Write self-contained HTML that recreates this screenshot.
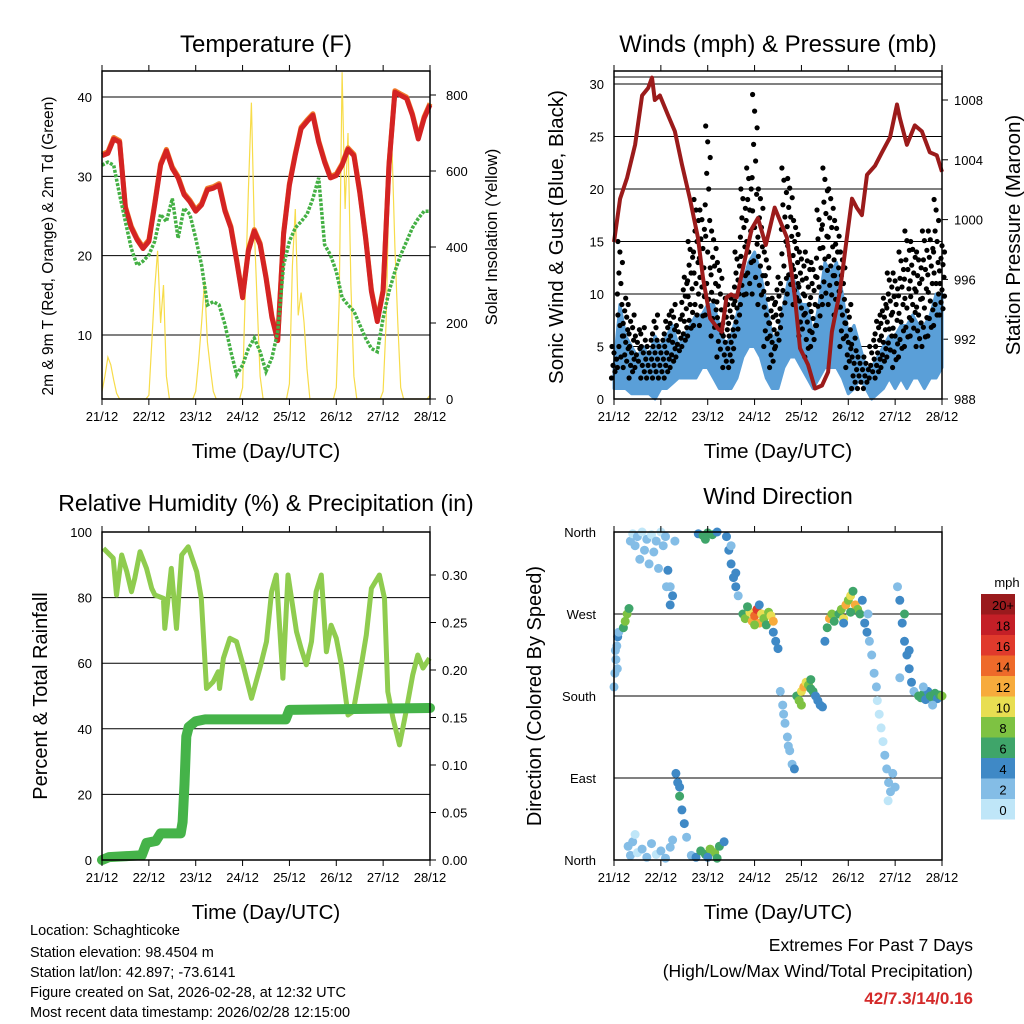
<!DOCTYPE html>
<html><head><meta charset="utf-8">
<style>
html,body{margin:0;padding:0;background:#fff;}
svg{display:block;font-family:"Liberation Sans",sans-serif;}
</style></head>
<body>
<svg id="c" width="1024" height="1024" viewBox="0 0 1024 1024" xmlns="http://www.w3.org/2000/svg"></svg>
<script>
// ---------- data ----------
const dayLabels = ["21/12","22/12","23/12","24/12","25/12","26/12","27/12","28/12"];
const tempTicks = [10,20,30,40];
const solarTicks = [0,200,400,600,800];
const tempAir = [32.6,32.9,34.7,34.3,26,23.5,22,20.9,21.8,26.4,31.4,33.2,31,29.8,27.7,26.8,25.6,26.4,28.3,28.5,28.9,25.6,23.5,19.3,14.7,20.6,23.1,21.4,17.2,12.2,9.3,22.7,28.9,32.7,36,36.9,37.7,34.3,31.8,29.8,30.1,31.4,33.4,32.6,28,22.2,15.5,11.7,15.5,31.4,40.6,40.2,39.8,37.7,34.7,37.3,39];
const tempDew = [31.4,31.8,31.4,27.7,24.3,20.9,18.8,19.3,20.1,21.8,25.2,24.3,27.2,22.2,26,25.2,22.2,18.8,13.8,14.2,13.8,11.3,7.9,5,6.2,8.3,9.6,7.9,5.4,7.1,10.4,18.8,21.8,23.5,24.3,25.2,27.2,29.8,21.4,20.1,18,14.7,13.8,13,11.3,9.6,8.3,7.9,12.1,15.5,18,20.1,21.8,23.5,24.7,25.6,25.6];
const solar = [20,60,110,90,50,15,0,0,0,0,0,0,0,0,0,0,
 10,150,290,390,200,300,60,0,0,0,0,0,0,0,0,0,
 20,100,200,310,150,80,20,0,0,0,0,0,0,0,0,0,
 30,300,550,780,450,250,60,0,0,0,0,0,0,0,0,0,
 40,350,500,220,280,200,80,0,0,0,0,0,0,0,0,0,
 30,260,860,500,700,300,60,0,0,0,0,0,0,0,0,0,
 20,200,550,670,400,200,30,0,0,0,0,0,0,0,0,0,10];
const windTicks = [0,5,10,15,20,25,30];
const presTicks = [988,992,996,1000,1004,1008];
const windLo = [1,1,1,0.5,0.5,0.5,0.5,0,1,1,1.5,2,2,2,2,3,3,2,1,1,1,2,4,5,5,4,2,1,1,3,4,4,3,2,1,2,3,3,3,2,0.5,1,2,1,0,0.5,1,2,1,2,1,2,2,1,2,2,3];
const windHi = [3,9,6,5,4,5,4,6,5,6,7,5,6,7,8,8,9,9,7,5,6,8,11,13,14,12,9,6,6,9,12,11,9,9,6,9,13,12,13,10,6,7,5,3,3,4,5,6,6,7,7,8,7,7,8,10,10];
const gustLo = [2,3,3,2,3,2,2,2,2,2,3,4,5,6,7,7,8,6,4,3,3,6,9,10,10,9,5,3,5,8,10,9,6,4,5,7,9,9,8,5,3,1,1,1,2,2,3,4,3,4,5,6,5,5,6,7,8];
const gustHi = [5,15,10,8,7,7,6,8,6,8,9,8,12,15,19,18,26,16,13,10,10,14,20,22,29,20,14,10,12,22,21,17,14,14,13,18,22,20,17,14,9,6,4,4,6,8,10,12,12,14,16,15,14,16,16,19,15];
const presTimes = [0,0.13,0.28,0.45,0.6,0.73,0.81,0.87,0.98,1.15,1.3,1.45,1.62,1.79,1.9,2.05,2.22,2.3,2.4,2.5,2.62,2.77,2.94,3.07,3.24,3.43,3.56,3.69,3.86,3.97,4.14,4.29,4.44,4.57,4.65,4.82,4.95,5.08,5.18,5.29,5.4,5.57,5.72,5.89,6.04,6.1,6.25,6.42,6.57,6.74,6.89,7.0];
const presVals = [998.5,1001.4,1002.8,1005,1008.3,1008.8,1009.5,1008,1008.3,1007,1005.9,1003.7,1001.4,998.8,996.1,993.4,992.7,992.5,994.8,995,994.8,997,999.4,1000.1,998.3,1000.8,999.8,998.8,994.8,991.4,990.3,988.7,988.9,989.8,992.5,995.2,998.3,1001.4,1000.8,1000.3,1003,1003.6,1004.5,1005.5,1007.7,1006.8,1005,1006.3,1005.9,1004.5,1004.3,1003.2];
const rhTicks = [0,20,40,60,80,100];
const rainTicks = ["0.00","0.05","0.10","0.15","0.20","0.25","0.30"];
const rhTimes = [0.03,0.24,0.31,0.42,0.53,0.63,0.70,0.81,0.95,1.06,1.13,1.31,1.34,1.48,1.59,1.70,1.84,2.02,2.12,2.23,2.37,2.48,2.51,2.59,2.73,2.87,3.01,3.19,3.37,3.51,3.62,3.72,3.86,3.97,4.15,4.25,4.36,4.47,4.57,4.68,4.79,4.89,5.0,5.11,5.25,5.36,5.5,5.64,5.75,5.92,6.03,6.10,6.21,6.35,6.49,6.63,6.74,6.85,6.99];
const rhVals = [95,92,80.8,93,87.9,81.8,85.9,94,88.9,82.8,80.8,79.8,70.6,88.9,70.6,93,95.5,87.9,79.8,52.3,54.3,57.4,52.3,61.5,67.6,66.6,59.5,49.3,58.5,66.6,81.8,86.9,55.4,86.9,69.6,64.5,59.5,66.6,81.8,86.9,63.5,71.6,67.6,59.5,44.2,45.3,56.4,68.6,82.8,86.9,79.8,51.3,43.2,35.1,45.3,56.4,62.5,58.5,61.5];
const rainTimes = [0,0.15,0.85,0.95,1.15,1.25,1.68,1.72,1.76,1.8,1.85,2.0,2.2,3.92,4.0,7.0];
const rainVals = [0,0.003,0.005,0.018,0.02,0.028,0.028,0.04,0.08,0.13,0.14,0.146,0.148,0.148,0.158,0.16];
const dirLabels = ["North","East","South","West","North"];
const dirT = [0,0.02,0.04,0.06,0.08,0.1,0.03,0.07, 0.2,0.24,0.28,0.32,
 0.35,0.4,0.45,0.5,0.55,0.6,0.65,0.7,0.75,0.8,0.85,0.9,0.95,1.0,1.05,1.1,1.15,1.2,1.25,1.3,1.12,1.2,
 1.8,1.9,2.0,2.1,2.2,1.95,
 2.4,2.45,2.5,2.55,2.6,2.65,2.5,2.6,
 2.75,2.8,2.9,2.95,3.0,3.05,3.1,3.15,3.2,3.25,3.3,3.35,3.4,3.0,2.85,3.1,
 3.45,3.5,3.4,
 3.55,3.6,3.65,3.7,3.75,3.8,3.85,3.62,3.72,
 3.9,3.95,4.0,4.05,4.1,4.15,4.2,4.25,4.3,4.35,4.4,4.45,4.0,4.2,
 4.5,4.55,4.6,4.65,4.7,
 4.8,4.85,4.9,4.95,5.0,5.05,5.1,5.15,5.2,5.25,5.3,4.9,5.05,
 5.35,5.4,5.45,5.5,5.55,5.6,5.42,
 5.62,5.66,5.7,5.74,5.78,5.82,5.86,5.9,5.95,6.0,5.85,
 6.05,6.1,6.15,6.2,6.25,6.3,6.35,6.4,6.2,6.3,6.1,
 6.5,6.55,6.6,6.65,6.7,6.75,6.8,6.85,6.9,6.95,7.0,6.6,6.8,
 0.3,0.35,0.4,0.5,0.6,0.7,0.8,0.9,1.0,1.1,1.2,1.25,0.45,
 1.32,1.36,1.4,1.45,1.5,1.55,1.4,
 1.65,1.75,1.85,1.95,2.05,2.15,2.25,2.35,2.0,2.2];
const dirD = [190,205,220,235,245,250,230,210, 255,262,270,276,
 350,358,345,355,330,360,340,352,325,357,338,350,320,360,345,355,318,300,290,350,300,280,
 358,356,359,357,360,352,
 355,340,325,310,300,290,345,315,
 270,265,272,262,268,275,260,270,265,258,272,268,262,258,278,280,
 240,232,250,
 185,170,150,135,120,105,100,160,125,
 180,175,185,190,195,192,188,185,180,175,170,168,170,198,
 240,255,265,270,262,
 270,275,265,280,285,290,295,280,275,270,285,260,272,
 260,250,240,225,205,190,270,
 175,160,145,130,115,100,85,75,95,80,65,
 300,285,260,240,225,210,195,185,270,230,200,
 180,178,182,176,185,180,178,183,177,181,180,190,170,
 15,5,20,8,12,3,18,6,10,2,14,22,28,
 95,85,70,55,40,25,80,
 5,3,10,6,12,8,15,20,3,2];
const dirS = [2,2,3,2,4,3,2,2, 7,8,9,6,
 2,1,3,2,2,1,3,2,2,1,3,2,2,1,2,3,4,3,4,2,3,4,
 5,6,7,6,5,7,
 4,4,5,4,4,3,3,4,
 6,8,10,12,14,16,12,10,8,6,8,10,12,8,6,4,
 4,4,4,
 2,2,3,2,2,3,4,2,3,
 7,8,10,12,10,8,7,6,5,5,4,4,9,6,
 4,6,12,8,6,
 6,8,10,12,8,10,6,12,8,6,4,5,7,
 4,4,3,3,2,2,3,
 0,1,1,0,2,2,2,3,2,3,1,
 2,4,5,4,4,5,4,3,6,4,3,
 6,7,6,5,4,6,7,6,5,6,9,3,2,
 2,3,2,1,2,3,2,1,2,2,3,2,1,
 4,5,6,4,4,3,5,
 3,4,6,7,9,8,7,5,4,6];
const speedLabels = ["0","2","4","6","8","10","12","14","16","18","20+"];
const speedColors = ["#bfe6f8","#84bde6","#3f89c6","#3fa56a","#7ec242","#e8de52","#f7ab3c","#ee6a2a","#e03a2c","#c41f27","#9a1a1d"];

// ---------- helpers ----------
const svg = document.getElementById('c');
const NS = "http://www.w3.org/2000/svg";
function mk(tag, attrs, parent){const e=document.createElementNS(NS,tag);for(const k in attrs)e.setAttribute(k,attrs[k]);(parent||svg).appendChild(e);return e;}
function txt(s, x, y, size, anchor, parent, extra){const t=mk('text',Object.assign({x:x,y:y,'font-size':size,'text-anchor':anchor||'middle',fill:'#000'},extra||{}),parent);t.textContent=s;return t;}
function lin(d0,d1,r0,r1){return v=>r0+(v-d0)/(d1-d0)*(r1-r0);}
function xAxis(left){return lin(0,7,left,left+328);}
function frame(g, L, T, xs){
  mk('rect',{x:L,y:T,width:328,height:328,fill:'none',stroke:'#000','stroke-width':1.5},g);
  dayLabels.forEach((lab,i)=>{const x=xs(i);
    mk('line',{x1:x,y1:T+328,x2:x,y2:T+334,stroke:'#000','stroke-width':1},g);
    mk('line',{x1:x,y1:T,x2:x,y2:T-6,stroke:'#000','stroke-width':1},g);
    const t=txt(lab,x,T+350,13,'middle',g);
    
    
  });
  const xt=txt("Time (Day/UTC)",L+164,T+387,20.5,'middle',g);
  
  
}
function gridY(g,L,y){mk('line',{x1:L,y1:y,x2:L+328,y2:y,stroke:'#000','stroke-width':1},g);}
function pathFrom(xsArr, ysArr){return xsArr.map((x,i)=>(i?'L':'M')+x.toFixed(1)+','+ysArr[i].toFixed(1)).join(' ');}

// ---------- Panel 1: Temperature ----------
(function(){
  const g=mk('g',{});
  
  
  const L=102,T=71, xs=xAxis(L);
  const ys=lin(10,40,335,97), ss=lin(0,800,399,95);
  const tt=txt("Temperature (F)",266,52,24,'middle',g);
  
  
  tempTicks.forEach(v=>{gridY(g,L,ys(v));txt(String(v),L-10,ys(v)+5,13,'end',g);});
  solarTicks.forEach(v=>{mk('line',{x1:L+328,y1:ss(v),x2:L+334,y2:ss(v),stroke:'#000'},g);txt(String(v),L+344,ss(v)+5,13,'start',g);});
  const solT=solar.map((v,i)=>i/16);
  const sp=mk('path',{d:pathFrom(solT.map(xs),solar.map(ss)),fill:'none',stroke:'#f7dc4a','stroke-width':1.2},g);
  
  
  const tT=tempAir.map((v,i)=>i/8);
  const op=mk('path',{d:pathFrom(tT.map(xs),tempAir.map(v=>ys(v)-1.5)),fill:'none',stroke:'#f07a2a','stroke-width':5,'stroke-linejoin':'round'},g);
  
  
  const rp=mk('path',{d:pathFrom(tT.map(xs),tempAir.map(ys)),fill:'none',stroke:'#d42323','stroke-width':5,'stroke-linejoin':'round'},g);
  
  
  const gp=mk('path',{d:pathFrom(tT.map(xs),tempDew.map(ys)),fill:'none',stroke:'#44b044','stroke-width':3.5,'stroke-dasharray':'3,1.5'},g);
  
  
  frame(g,L,T,xs);
  const yl=txt("2m & 9m T (Red, Orange) & 2m Td (Green)",0,0,15.5,'middle',g,{transform:'translate(53,246) rotate(-90)'});
  
  
  const yr=txt("Solar Insolation (Yellow)",0,0,16.5,'middle',g,{transform:'translate(497,237) rotate(-90)'});
  
  
})();

// ---------- Panel 2: Winds & Pressure ----------
(function(){
  const g=mk('g',{});
  
  
  const L=614,T=71, xs=xAxis(L);
  const ys=lin(0,30,399,84), ps=lin(988,1008,399,100);
  const tt=txt("Winds (mph) & Pressure (mb)",778,52,24,'middle',g);
  
  
  windTicks.forEach(v=>{if(v>0)gridY(g,L,ys(v));txt(String(v),L-10,ys(v)+5,13,'end',g);});
  gridY(g,L,77);
  presTicks.forEach(v=>{mk('line',{x1:L+328,y1:ps(v),x2:L+334,y2:ps(v),stroke:'#000'},g);txt(String(v),L+340,ps(v)+5,13,'start',g);});
  const wT=windLo.map((v,i)=>i/8);
  const up=wT.map(xs).map((x,i)=>(i?'L':'M')+x.toFixed(1)+','+ys(windHi[i]).toFixed(1)).join(' ');
  const dn=wT.map(xs).map((x,i)=>[x,ys(windLo[i])]).reverse().map(p=>'L'+p[0].toFixed(1)+','+p[1].toFixed(1)).join(' ');
  const band=mk('path',{d:up+' '+dn+' Z',fill:'#5a9fd8',stroke:'#5a9fd8','stroke-width':3,'stroke-linejoin':'round'},g);
  
  
  const gg=mk('g',{},g);
  
  
  const offs=[-2.5,1,-1,2.5,0,-2,2];
  gustLo.forEach((lo,i)=>{
    const hi=gustHi[i], x0=xs(i/8);
    let k=0;
    for(let v=lo; v<=hi+0.01; v+=Math.max(0.6,(hi-lo)/12)){
      mk('circle',{cx:(x0+offs[k%offs.length]).toFixed(1),cy:ys(v).toFixed(1),r:2.6,fill:'#000'},gg);
      k++;
    }
  });
  const pp=mk('path',{d:pathFrom(presTimes.map(xs),presVals.map(ps)),fill:'none',stroke:'#9b1b1b','stroke-width':4,'stroke-linejoin':'round'},g);
  
  
  frame(g,L,T,xs);
  const yl=txt("Sonic Wind & Gust (Blue, Black)",0,0,20.5,'middle',g,{transform:'translate(563,237) rotate(-90)'});
  
  
  const yr=txt("Station Pressure (Maroon)",0,0,20.5,'middle',g,{transform:'translate(1020,235) rotate(-90)'});
  
  
})();

// ---------- Panel 3: RH & Precip ----------
(function(){
  const g=mk('g',{});
  
  
  const L=102,T=532, xs=xAxis(L);
  const ys=lin(0,100,860,532), rs=lin(0,0.30,860,575);
  const tt=txt("Relative Humidity (%) & Precipitation (in)",266,511,23,'middle',g);
  
  
  rhTicks.forEach(v=>{if(v>0&&v<100)gridY(g,L,ys(v));txt(String(v),L-10,ys(v)+5,13,'end',g);});
  rainTicks.forEach(s=>{const v=parseFloat(s);mk('line',{x1:L+328,y1:rs(v),x2:L+334,y2:rs(v),stroke:'#000'},g);txt(s,L+340,rs(v)+5,13,'start',g);});
  const rh=mk('path',{d:pathFrom(rhTimes.map(xs),rhVals.map(ys)),fill:'none',stroke:'#8fcc4f','stroke-width':5,'stroke-linejoin':'round'},g);
  
  
  const rn=mk('path',{d:pathFrom(rainTimes.map(xs),rainVals.map(rs)),fill:'none',stroke:'#45b349','stroke-width':10,'stroke-linejoin':'round','stroke-linecap':'round'},g);
  
  
  frame(g,L,T,xs);
  const yl=txt("Percent & Total Rainfall",0,0,20,'middle',g,{transform:'translate(47,696) rotate(-90)'});
  
  
})();

// ---------- Panel 4: Wind Direction ----------
(function(){
  const g=mk('g',{});
  
  
  const L=614,T=532, xs=xAxis(L);
  const ys=lin(0,360,860,532);
  const tt=txt("Wind Direction",778,504,23,'middle',g);
  
  
  dirLabels.forEach((s,i)=>{const y=ys(i*90);if(i>0&&i<4)gridY(g,L,y);txt(s,L-18,y+5,13,'end',g);});
  const dg=mk('g',{},g);
  
  
  dirT.forEach((t,i)=>{
    const ci=Math.min(10,Math.floor(dirS[i]/2));
    mk('circle',{cx:xs(t).toFixed(1),cy:ys(dirD[i]).toFixed(1),r:4.5,fill:speedColors[ci]},dg);
  });
  frame(g,L,T,xs);
  const yl=txt("Direction (Colored By Speed)",0,0,20,'middle',g,{transform:'translate(541,696) rotate(-90)'});
  
  
  const cb=mk('g',{});
  
  
  txt("mph",1007,587,13,'middle',cb);
  const top=594,h=20.5;
  speedColors.slice().reverse().forEach((col,j)=>{
    mk('rect',{x:981,y:top+j*h,width:34,height:h,fill:col},cb);
    txt(speedLabels[10-j],1003,top+j*h+16,13,'middle',cb);
  });
})();

// ---------- footer text ----------
(function(){
  const lines=["Location: Schaghticoke","Station elevation: 98.4504 m","Station lat/lon: 42.897; -73.6141","Figure created on Sat, 2026-02-28, at 12:32 UTC","Most recent data timestamp: 2026/02/28 12:15:00"];
  const ys=[935,957,977,997,1017];
  lines.forEach((s,i)=>{const t=txt(s,30,ys[i],14.5,'start');
    
    });
  const a=txt("Extremes For Past 7 Days",973,951,17.5,'end');
  
  
  const b=txt("(High/Low/Max Wind/Total Precipitation)",973,977,17.5,'end');
  
  
  const c=txt("42/7.3/14/0.16",973,1004,17,'end',null,{fill:'#d42a2a','font-weight':'bold'});
  
  
})();
</script>
</body></html>
